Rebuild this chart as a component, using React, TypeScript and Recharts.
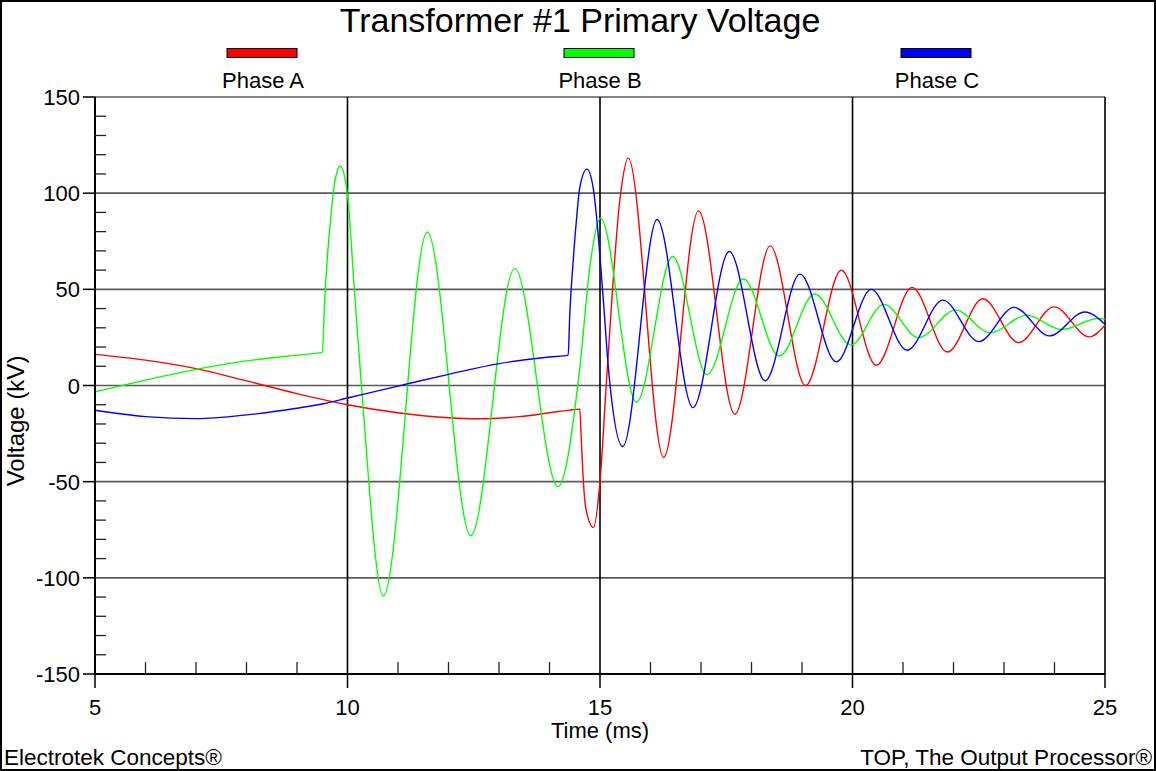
import React from 'react';
import { LineChart, Line, XAxis, YAxis, CartesianGrid, ReferenceLine } from 'recharts';

// ---- Data (time in ms, voltage in kV) ----
const phaseA: [number, number][] = [
  [5.0, 16.2], [6.0, 13.2], [7.0, 8.8], [8.0, 2.4], [9.0, -4.2], [10.0, -10.0], [11.0, -14.2],
  [12.0, -16.8], [12.6, -17.3], [13.4, -16.2], [14.0, -14.2], [14.4, -12.8], [14.6, -12.3],
  [14.63, -28], [14.66, -45], [14.72, -64], [14.87, -73.8], [15.0, -50], [15.13, 3], [15.4, 98],
  [15.56, 118.2], [16.26, -37.4], [16.95, 90.8], [17.67, -14.9], [18.37, 72.6], [19.07, 0],
  [19.78, 59.9], [20.47, 10.5], [21.18, 51], [21.88, 17.4], [22.58, 45.1], [23.29, 22.3],
  [23.99, 40.9], [24.69, 25.3], [25.0, 31.4],
];

const phaseB: [number, number][] = [
  [5.0, -3.3], [6.0, 2.8], [7.0, 8.4], [8.0, 12.8], [9.0, 15.8], [9.5, 17.2], [9.55, 45],
  [9.6, 66], [9.67, 88], [9.75, 106], [9.855, 114], [10.0, 99], [10.13, 52], [10.27, 2],
  [10.71, -109.4], [11.58, 79.8], [12.44, -78.1], [13.31, 60.9], [14.17, -52.6], [14.6, 9],
  [14.8, 62], [15.01, 87], [15.72, -8.6], [16.44, 67.1], [17.12, 5.7], [17.84, 55.4],
  [18.55, 15.3], [19.25, 47.6], [19.97, 21.1], [20.62, 42.2], [21.31, 24.9], [22.04, 39.2],
  [22.73, 27.4], [23.45, 36.6], [24.14, 29.1], [24.87, 34.8], [25.0, 34.5],
];

const phaseC: [number, number][] = [
  [5.0, -12.9], [6.0, -16.2], [7.0, -17.2], [8.0, -15.3], [9.0, -11.8], [9.5, -9.6], [10.0, -6.5],
  [11.0, -0.3], [12.0, 5.8], [13.0, 11.4], [14.0, 14.8], [14.37, 15.8], [14.4, 36], [14.47, 65],
  [14.54, 88], [14.6, 103], [14.74, 112.5], [14.87, 102], [14.93, 88], [15.07, 43], [15.17, 8],
  [15.45, -31.7], [16.13, 86.3], [16.84, -11.5], [17.56, 69.7], [18.27, 2.5], [18.96, 57.9],
  [19.68, 12.3], [20.37, 50], [21.08, 18.3], [21.79, 44.4], [22.5, 22.8], [23.2, 40.6],
  [23.9, 25.8], [24.6, 38.2], [25.0, 31.9],
];

const xMajorTicks = [5, 10, 15, 20, 25];
const xMinorTicks = [6, 7, 8, 9, 11, 12, 13, 14, 16, 17, 18, 19, 21, 22, 23, 24];
const yMajorTicks = [-150, -100, -50, 0, 50, 100, 150];
const yMinorTicks = [
  -140, -130, -120, -110, -90, -80, -70, -60, -40, -30, -20, -10,
  10, 20, 30, 40, 60, 70, 80, 90, 110, 120, 130, 140,
];
const verticalGridAt = [10, 15, 20, 25];

const seriesNames = ['Phase A', 'Phase B', 'Phase C'];
const seriesColors = ['#ff0000', '#00ff00', '#0000ff'];
const seriesData = [phaseA, phaseB, phaseC];

const title = 'Transformer #1 Primary Voltage';
const xLabel = 'Time (ms)';
const yLabel = 'Voltage (kV)';
const footerLeft = 'Electrotek Concepts®';
const footerRight = 'TOP, The Output Processor®';

const FONT = '"Liberation Sans", Arial, Helvetica, sans-serif';

const toRows = (arr: [number, number][]) => arr.map(([t, v]) => ({ t, v }));

const XTick = (props: any) => {
  const { x, y, payload } = props;
  const v = payload.value;
  if (xMajorTicks.includes(v)) {
    return (
      <g>
        <line x1={x} y1={y} x2={x} y2={y + 14} stroke="#000" strokeWidth={1.5} />
        <text x={x} y={y + 41} textAnchor="middle" fontSize={22} fontFamily={FONT} fill="#000">
          {v}
        </text>
      </g>
    );
  }
  return <line x1={x} y1={y} x2={x} y2={y - 12} stroke="#222" strokeWidth={1.3} />;
};

const YTick = (props: any) => {
  const { x, y, payload } = props;
  const v = payload.value;
  if (yMajorTicks.includes(v)) {
    return (
      <g>
        <line x1={x - 12} y1={y} x2={x} y2={y} stroke="#000" strokeWidth={1.5} />
        <text x={x - 15} y={y + 8} textAnchor="end" fontSize={22} fontFamily={FONT} fill="#000">
          {v}
        </text>
      </g>
    );
  }
  return <line x1={x} y1={y} x2={x + 11} y2={y} stroke="#222" strokeWidth={1.3} />;
};

const legendCenters = [262, 599, 936];

export default function App() {
  return (
    <div
      style={{
        position: 'absolute',
        left: 0,
        top: 0,
        width: 1156,
        height: 771,
        background: '#fff',
        fontFamily: FONT,
        overflow: 'hidden',
      }}
    >
      <LineChart width={1156} height={771} margin={{ top: 97, right: 51, bottom: 57, left: 0 }}>
        <CartesianGrid
          vertical={false}
          horizontalValues={yMajorTicks}
          stroke="#5a5a5a"
          strokeWidth={1.6}
        />
        {verticalGridAt.map((v) => (
          <ReferenceLine key={v} x={v} stroke="#000" strokeWidth={1.6} />
        ))}
        <XAxis
          type="number"
          dataKey="t"
          domain={[5, 25]}
          ticks={[...xMajorTicks, ...xMinorTicks]}
          interval={0}
          height={40}
          tickSize={0}
          tickMargin={0}
          tickLine={false}
          tick={(p: any) => <XTick {...p} />}
          axisLine={{ stroke: '#000', strokeWidth: 2 }}
        />
        <YAxis
          type="number"
          domain={[-150, 150]}
          ticks={[...yMajorTicks, ...yMinorTicks]}
          interval={0}
          width={95}
          tickSize={0}
          tickMargin={0}
          tickLine={false}
          tick={(p: any) => <YTick {...p} />}
          axisLine={{ stroke: '#000', strokeWidth: 2 }}
        />
        {seriesData.map((d, i) => (
          <Line
            key={seriesNames[i]}
            data={toRows(d)}
            dataKey="v"
            name={seriesNames[i]}
            type="monotone"
            stroke={seriesColors[i]}
            strokeWidth={1.4}
            dot={false}
            activeDot={false}
            isAnimationActive={false}
          />
        ))}
      </LineChart>
      <svg
        width={1156}
        height={771}
        style={{ position: 'absolute', left: 0, top: 0, pointerEvents: 'none' }}
      >
        <rect x={1} y={1} width={1154} height={769} fill="none" stroke="#000" strokeWidth={2} />
        <text x={580} y={32} textAnchor="middle" fontSize={34} fontFamily={FONT} fill="#000">
          {title}
        </text>
        {seriesNames.map((n, i) => (
          <g key={n}>
            <rect
              x={legendCenters[i] - 35}
              y={48.5}
              width={70}
              height={9}
              fill={seriesColors[i]}
              stroke="#000"
              strokeWidth={1}
            />
            <text
              x={legendCenters[i] + 1}
              y={88}
              textAnchor="middle"
              fontSize={22}
              fontFamily={FONT}
              fill="#000"
            >
              {n}
            </text>
          </g>
        ))}
        <text x={600} y={738} textAnchor="middle" fontSize={22} fontFamily={FONT} fill="#000">
          {xLabel}
        </text>
        <text
          x={0}
          y={0}
          transform="translate(24 421) rotate(-90)"
          textAnchor="middle"
          fontSize={24}
          fontFamily={FONT}
          fill="#000"
        >
          {yLabel}
        </text>
        <text x={4} y={765} textAnchor="start" fontSize={22.5} fontFamily={FONT} fill="#000">
          {footerLeft}
        </text>
        <text x={1152} y={765} textAnchor="end" fontSize={22.5} fontFamily={FONT} fill="#000">
          {footerRight}
        </text>
      </svg>
    </div>
  );
}
